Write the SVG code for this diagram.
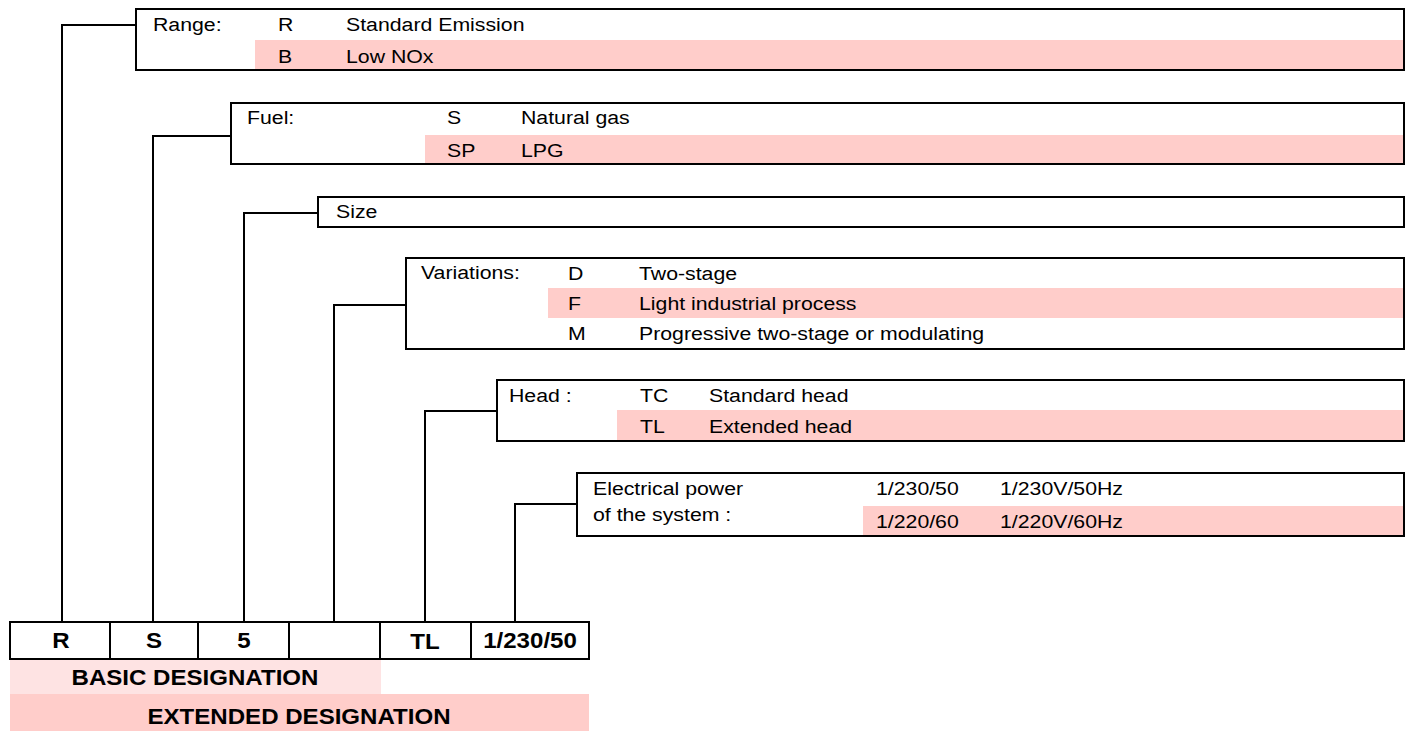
<svg xmlns="http://www.w3.org/2000/svg" width="1413" height="731" viewBox="0 0 1413 731">
<style>
.box{fill:none;stroke:#000;stroke-width:2}
.pk{fill:#ffcdca}
.lpk{fill:#fee3e3}
.t{font-family:"Liberation Sans",Arial,sans-serif;font-size:19px;fill:#000}
.b{font-family:"Liberation Sans",Arial,sans-serif;font-size:21.5px;font-weight:bold;fill:#000;text-anchor:middle}
.conn path{fill:none;stroke:#000;stroke-width:2}
</style>
<rect width="1413" height="731" fill="#fff"/>
<g class="conn" id="connectors">
<path d="M62,622 V25 H136"/>
<path d="M153,622 V136 H231"/>
<path d="M244,622 V213 H318"/>
<path d="M334,622 V305 H406"/>
<path d="M425,622 V411 H497"/>
<path d="M515,622 V504 H577"/>
</g>
<g id="range">
<rect class="pk" x="255" y="40" width="1149" height="30"/>
<rect class="box" x="136" y="9" width="1268" height="61"/>
<text class="t" transform="translate(153 31) scale(1.12 1)">Range:</text>
<text class="t" transform="translate(278 31) scale(1.12 1)">R</text>
<text class="t" transform="translate(346 31) scale(1.12 1)">Standard Emission</text>
<text class="t" transform="translate(278 63) scale(1.12 1)">B</text>
<text class="t" transform="translate(346 63) scale(1.12 1)">Low NOx</text>
</g>
<g id="fuel">
<rect class="pk" x="425" y="135" width="979" height="29"/>
<rect class="box" x="231" y="103" width="1173" height="61"/>
<text class="t" transform="translate(247 124) scale(1.12 1)">Fuel:</text>
<text class="t" transform="translate(447 124) scale(1.12 1)">S</text>
<text class="t" transform="translate(521 124) scale(1.12 1)">Natural gas</text>
<text class="t" transform="translate(447 157) scale(1.12 1)">SP</text>
<text class="t" transform="translate(521 157) scale(1.12 1)">LPG</text>
</g>
<g id="size">
<rect class="box" x="318" y="197" width="1086" height="30"/>
<text class="t" transform="translate(336 218) scale(1.12 1)">Size</text>
</g>
<g id="variations">
<rect class="pk" x="548" y="288" width="856" height="30"/>
<rect class="box" x="406" y="258" width="998" height="91"/>
<text class="t" transform="translate(421 279) scale(1.12 1)">Variations:</text>
<text class="t" transform="translate(568 280) scale(1.12 1)">D</text>
<text class="t" transform="translate(639 280) scale(1.12 1)">Two-stage</text>
<text class="t" transform="translate(568 310) scale(1.12 1)">F</text>
<text class="t" transform="translate(639 310) scale(1.12 1)">Light industrial process</text>
<text class="t" transform="translate(568 340) scale(1.12 1)">M</text>
<text class="t" transform="translate(639 340) scale(1.12 1)">Progressive two-stage or modulating</text>
</g>
<g id="head">
<rect class="pk" x="617" y="410" width="787" height="31"/>
<rect class="box" x="497" y="380" width="907" height="61"/>
<text class="t" transform="translate(509 402) scale(1.12 1)">Head :</text>
<text class="t" transform="translate(640 402) scale(1.12 1)">TC</text>
<text class="t" transform="translate(709 402) scale(1.12 1)">Standard head</text>
<text class="t" transform="translate(640 433) scale(1.12 1)">TL</text>
<text class="t" transform="translate(709 433) scale(1.12 1)">Extended head</text>
</g>
<g id="power">
<rect class="pk" x="863" y="506" width="541" height="30"/>
<rect class="box" x="577" y="473" width="827" height="63"/>
<text class="t" transform="translate(593 495) scale(1.12 1)">Electrical power</text>
<text class="t" transform="translate(593 521) scale(1.12 1)">of the system :</text>
<text class="t" transform="translate(876 495) scale(1.12 1)">1/230/50</text>
<text class="t" transform="translate(1000 495) scale(1.12 1)">1/230V/50Hz</text>
<text class="t" transform="translate(876 528) scale(1.12 1)">1/220/60</text>
<text class="t" transform="translate(1000 528) scale(1.12 1)">1/220V/60Hz</text>
</g>
<g id="designation">
<rect class="lpk" x="10" y="659" width="371" height="35"/>
<rect class="pk" x="10" y="694" width="579" height="37"/>
<rect class="box" x="10" y="622" width="579" height="37"/>
<path d="M110,622 V659 M198,622 V659 M289,622 V659 M380,622 V659 M471,622 V659" stroke="#000" stroke-width="2" fill="none"/>
<text class="b" transform="translate(61 648) scale(1.12 1)">R</text>
<text class="b" transform="translate(154 648) scale(1.12 1)">S</text>
<text class="b" transform="translate(244 648) scale(1.12 1)">5</text>
<text class="b" transform="translate(425 649) scale(1.12 1)">TL</text>
<text class="b" transform="translate(530 648) scale(1.12 1)">1/230/50</text>
<text class="b" transform="translate(195 685) scale(1.12 1)">BASIC DESIGNATION</text>
<text class="b" transform="translate(299 724) scale(1.12 1)">EXTENDED DESIGNATION</text>
</g>
</svg>
